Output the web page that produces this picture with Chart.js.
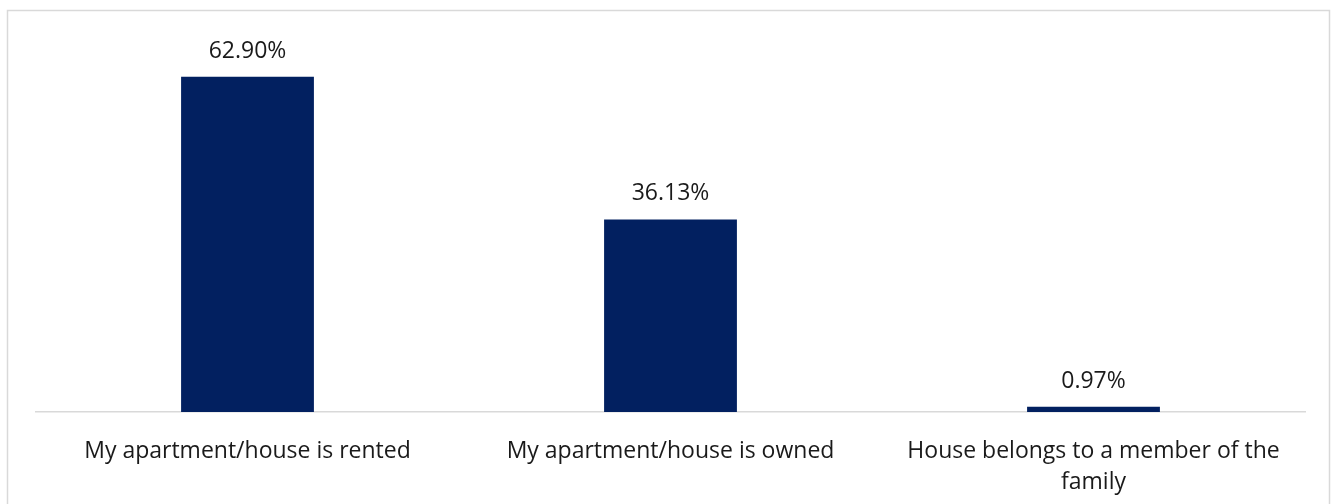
<!DOCTYPE html>
<html>
<head>
<meta charset="utf-8">
<script src="https://cdn.jsdelivr.net/npm/chart.js@4.4.1/dist/chart.umd.min.js"></script>
<style>
  html, body { margin: 0; padding: 0; background: #ffffff; }
  #wrap { position: relative; width: 1338px; height: 504px; }
</style>
</head>
<body>
<div id="wrap"><canvas id="chart" width="1338" height="504"></canvas></div>
<script>
// Housing situation of respondents (share in %)
const categories = [
  'My apartment/house is rented',
  'My apartment/house is owned',
  ['House belongs to a member of the', 'family']
];
const shares = [62.90, 36.13, 0.97];

const FONT = '"Open Sans", "Noto Sans", sans-serif';
const BAR_COLOR = '#022060';

// Thin grey frame around the whole chart
const framePlugin = {
  id: 'frame',
  beforeDraw(chart) {
    const ctx = chart.ctx;
    ctx.save();
    ctx.fillStyle = '#ffffff';
    ctx.fillRect(0, 0, chart.width, chart.height);
    ctx.strokeStyle = '#d9d9d9';
    ctx.lineWidth = 1.5;
    ctx.strokeRect(7.5, 10.5, 1322, 500);
    ctx.restore();
  }
};

// Percent labels above each bar
const valueLabels = {
  id: 'valueLabels',
  afterDatasetsDraw(chart) {
    const ctx = chart.ctx;
    const meta = chart.getDatasetMeta(0);
    const data = chart.data.datasets[0].data;
    ctx.save();
    ctx.font = '23px ' + FONT;
    ctx.fillStyle = '#1a1a1a';
    ctx.textAlign = 'center';
    ctx.textBaseline = 'alphabetic';
    meta.data.forEach((bar, i) => {
      ctx.fillText(data[i].toFixed(2) + '%', bar.x, bar.y - 19);
    });
    ctx.restore();
  }
};

new Chart(document.getElementById('chart'), {
  type: 'bar',
  data: {
    labels: categories,
    datasets: [{
      data: shares,
      backgroundColor: BAR_COLOR,
      borderWidth: 0,
      categoryPercentage: 1,
      barPercentage: 0.314
    }]
  },
  options: {
    responsive: false,
    animation: false,
    devicePixelRatio: 1,
    layout: { padding: { top: 39, left: 36, right: 33, bottom: 0 } },
    plugins: {
      legend: { display: false },
      tooltip: { enabled: false }
    },
    scales: {
      y: {
        display: false,
        min: 0,
        max: 70
      },
      x: {
        grid: { display: false, drawTicks: false },
        border: { display: true, color: '#d9d9d9', width: 1.5 },
        ticks: {
          color: '#1a1a1a',
          font: { family: FONT, size: 23, lineHeight: 1.36 },
          padding: 24,
          maxRotation: 0,
          autoSkip: false
        },
        afterFit(scale) { scale.height = 92; }
      }
    }
  },
  plugins: [framePlugin, valueLabels]
});
</script>
</body>
</html>
